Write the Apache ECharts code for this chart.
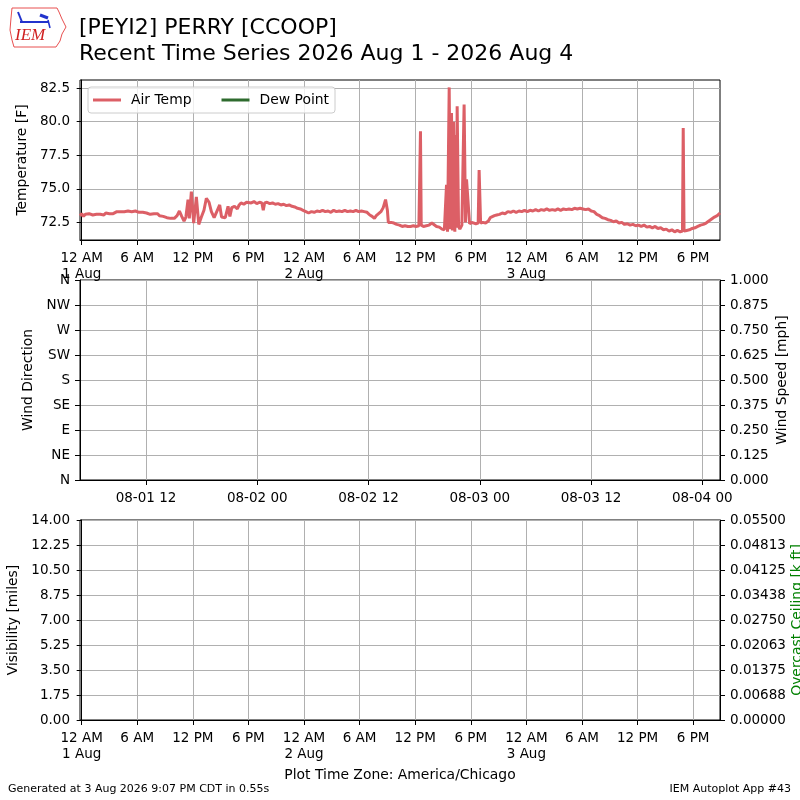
<!DOCTYPE html>
<html><head><meta charset="utf-8">
<script src="https://cdn.jsdelivr.net/npm/echarts@6/dist/echarts.min.js"></script>
<style>html,body{margin:0;padding:0;background:#fff}#c{width:800px;height:800px}</style>
</head><body><div id="c"></div><script>
// ---- Data (hours since 2026-08-01 00:00 CDT) ----
const airTempHours = [
 -0.18,0,0.2,0.4,0.6,0.8,1.0,1.2,1.4,1.6,1.8,2.0,2.2,2.4,2.6,2.8,3.0,3.2,3.4,3.6,3.8,4.0,4.2,4.4,4.6,4.8,5.0,5.2,5.4,5.6,5.8,6.0,6.2,6.4,6.6,6.8,7.0,7.2,7.4,7.6,7.8,8.0,8.2,8.4,8.6,8.8,9.0,9.2,9.4,9.6,9.8,10.0,
 10.3,10.55,10.8,11.05,11.25,11.48,11.62,11.84,12.09,12.38,12.64,12.92,13.2,13.46,13.75,14.0,14.3,14.5,14.9,15.1,15.3,15.5,15.8,16.0,16.2,16.5,16.8,17.0,17.2,17.5,17.8,18.0,18.3,18.6,18.9,19.2,19.45,19.6,19.75,20.0,20.3,20.6,20.9,21.2,21.5,21.8,22.1,22.4,22.7,23.0,23.3,23.6,23.9,24.2,24.5,
 24.8,25.1,25.4,25.7,26.0,26.3,26.6,26.9,27.2,27.5,27.8,28.1,28.4,28.7,29.0,29.3,29.6,29.9,30.2,30.5,30.8,31.1,31.35,31.6,31.8,32.0,32.3,32.55,32.8,33.0,33.1,
 33.4,33.7,34.0,34.3,34.6,34.9,35.2,35.5,35.8,36.1,36.4,36.52,36.57,36.65,36.9,37.2,37.5,37.8,38.0,38.3,38.6,38.9,39.15,39.3,
 39.38,39.49,39.67,39.8,39.92,40.03,40.14,40.28,40.38,40.46,40.53,40.68,40.82,41.04,41.2,41.28,41.43,41.54,41.72,41.87,42.1,42.3,42.55,42.8,42.9,43.06,43.3,43.6,43.9,44.1,44.3,44.55,44.8,
 45.1,45.4,45.7,46.0,46.3,46.6,46.9,47.2,47.5,47.8,48.1,48.4,48.7,49.0,49.3,49.6,49.9,50.2,50.5,50.8,51.1,51.4,51.7,52.0,52.3,52.6,52.9,53.2,53.5,53.8,54.1,54.4,54.7,55.0,55.3,55.6,55.9,
 56.2,56.5,56.8,57.1,57.4,57.7,58.0,58.3,58.6,58.9,59.2,59.5,59.8,60.1,60.4,60.7,61.0,61.3,61.6,61.9,62.2,62.5,62.8,63.1,63.4,63.7,64.0,64.3,64.6,64.85,64.93,65.02,65.3,65.6,65.9,66.2,66.5,66.8,67.1,67.4,67.7,68.0,68.3,68.6,68.9
];
const airTempF = [
 73.0,73.15,72.95,73.1,73.0,73.15,73.1,73.05,73.15,73.1,73.2,73.1,73.15,73.05,73.2,73.1,73.15,73.25,73.15,73.2,73.3,73.2,73.3,73.25,73.3,73.2,73.35,73.25,73.3,73.2,73.35,73.3,73.25,73.35,73.25,73.3,73.2,73.25,73.1,73.2,73.15,73.05,73.15,73.0,73.1,72.95,73.0,72.85,72.95,72.8,72.9,72.8,
 73.0,73.35,72.95,72.6,72.9,74.2,72.8,74.8,72.45,74.4,72.35,72.9,73.4,74.3,74.0,73.3,72.85,72.9,73.8,72.9,72.95,72.85,73.7,72.95,73.6,73.7,73.5,73.8,73.95,73.85,74.0,74.05,73.95,74.05,73.9,74.0,73.95,73.4,73.95,74.0,73.9,73.95,73.85,73.9,73.8,73.85,73.75,73.8,73.7,73.65,73.55,73.5,73.4,73.3,73.2,
 73.3,73.25,73.35,73.3,73.4,73.3,73.35,73.25,73.4,73.3,73.35,73.3,73.4,73.3,73.35,73.3,73.4,73.3,73.35,73.3,73.25,73.05,72.95,72.8,73.0,73.05,73.3,73.6,74.2,73.4,72.5,
 72.5,72.45,72.35,72.3,72.2,72.25,72.2,72.2,72.25,72.2,72.25,72.3,79.28,72.3,72.2,72.25,72.3,72.45,72.35,72.2,72.15,72.0,71.95,71.85,
 75.3,71.8,82.55,72.0,80.65,71.9,80.0,71.8,79.0,72.1,81.15,72.2,72.0,72.3,72.2,81.27,72.5,75.7,75.7,72.4,72.5,72.45,72.4,72.45,76.4,72.45,72.5,72.45,72.6,72.85,72.8,73.0,73.05,
 73.1,73.2,73.15,73.3,73.25,73.35,73.25,73.35,73.3,73.4,73.3,73.4,73.35,73.45,73.35,73.45,73.4,73.5,73.4,73.45,73.4,73.5,73.4,73.5,73.45,73.5,73.45,73.55,73.5,73.55,73.5,73.45,73.5,73.35,73.3,73.1,73.0,
 72.85,72.8,72.7,72.65,72.55,72.6,72.45,72.5,72.35,72.4,72.3,72.35,72.25,72.3,72.2,72.3,72.15,72.2,72.1,72.2,72.05,72.1,71.95,72.0,71.85,71.95,71.8,71.9,71.8,71.85,79.53,71.85,71.9,71.95,72.05,72.1,72.2,72.3,72.35,72.45,72.6,72.75,72.9,73.0,73.2
];
const dewPointF = [];

// ---- Tick labels ----
const timeTickHours = [0,6,12,18,24,30,36,42,48,54,60,66];
const timeTickLabels = ['12 AM\n1 Aug','6 AM','12 PM','6 PM','12 AM\n2 Aug','6 AM','12 PM','6 PM','12 AM\n3 Aug','6 AM','12 PM','6 PM'];
const windTickHours = [12,24,36,48,60,72];
const windTickLabels = ['08-01 12','08-02 00','08-02 12','08-03 00','08-03 12','08-04 00'];
const tempTicks = [72.5,75.0,77.5,80.0,82.5];
const dirLabels = ['N','NE','E','SE','S','SW','W','NW','N'];
const ceilLabels = ['0.00000','0.00688','0.01375','0.02063','0.02750','0.03438','0.04125','0.04813','0.05500'];

const FONT = 'DejaVu Sans';
const chart = echarts.init(document.getElementById('c'), null, {renderer:'canvas'});

function lbl(extra){ return Object.assign({color:'#000', fontSize:13.5, fontFamily:FONT, margin:10}, extra||{}); }
const axLine = {show:true, lineStyle:{color:'#000', width:1}};
const tick = {show:true, length:5, inside:false, lineStyle:{color:'#000', width:1}};
const grid = {show:true, lineStyle:{color:'#b0b0b0', width:1, type:'solid'}};
const nameStyle = {color:'#000', fontSize:13.9, fontFamily:FONT};

function timeAxis(gi, min, max, vals, labels){
  return {
    type:'value', gridIndex:gi, min:min, max:max,
    axisLine:axLine,
    axisTick:Object.assign({}, tick, {customValues:vals}),
    axisLabel:lbl({customValues:vals, lineHeight:16, formatter:function(v){const i=vals.indexOf(Math.round(v)); return i>=0?labels[i]:'';}}),
    splitLine:grid
  };
}

const pairs = airTempHours.map((h,i)=>[h, airTempF[i]]);
const gridBase = {left:80, right:80, show:true, borderColor:'#000', borderWidth:1, backgroundColor:'transparent', containLabel:false, outerBoundsMode:'none'};

chart.setOption({
  animation:false,
  backgroundColor:'#fff',
  title:{
    text:'[PEYI2] PERRY [CCOOP]\nRecent Time Series 2026 Aug 1 - 2026 Aug 4',
    left:79, top:15, padding:0,
    textStyle:{fontSize:22, fontWeight:'normal', color:'#000', lineHeight:26, fontFamily:FONT}
  },
  legend:{
    left:88, top:87, orient:'horizontal',
    data:[{name:'Air Temp', icon:'rect'},{name:'Dew Point', icon:'rect'}],
    itemWidth:28, itemHeight:3, itemGap:30,
    padding:[6,6,6,5],
    borderColor:'#cccccc', borderWidth:1, borderRadius:3,
    backgroundColor:'rgba(255,255,255,0.8)',
    textStyle:{color:'#000', fontSize:13.9, fontFamily:FONT, padding:[0,0,0,5]}
  },
  grid:[
    Object.assign({}, gridBase, {top:80, height:160}),
    Object.assign({}, gridBase, {top:280, height:200}),
    Object.assign({}, gridBase, {top:520, height:200})
  ],
  xAxis:[
    timeAxis(0, -0.18, 68.9, timeTickHours, timeTickLabels),
    timeAxis(1, 4.88, 73.91, windTickHours, windTickLabels),
    timeAxis(2, -0.18, 68.9, timeTickHours, timeTickLabels)
  ],
  yAxis:[
    {type:'value', gridIndex:0, min:71.19, max:83.1, position:'left',
     axisLine:axLine, axisTick:Object.assign({}, tick, {customValues:tempTicks}),
     axisLabel:lbl({customValues:tempTicks, formatter:v=>v.toFixed(1)}), splitLine:grid,
     name:'Temperature [F]', nameLocation:'middle', nameRotate:90, nameGap:51, nameTextStyle:nameStyle},
    {type:'value', gridIndex:1, min:0, max:360, interval:45, position:'left',
     axisLine:axLine, axisTick:tick,
     axisLabel:lbl({formatter:v=>dirLabels[Math.round(v/45)]}), splitLine:grid,
     name:'Wind Direction', nameLocation:'middle', nameRotate:90, nameGap:35, nameTextStyle:nameStyle},
    {type:'value', gridIndex:1, min:0, max:1, interval:0.125, position:'right',
     axisLine:axLine, axisTick:tick,
     axisLabel:lbl({formatter:v=>v.toFixed(3)}), splitLine:{show:false},
     name:'Wind Speed [mph]', nameLocation:'middle', nameRotate:90, nameGap:55, nameMoveOverlap:false, nameTextStyle:nameStyle},
    {type:'value', gridIndex:2, min:0, max:14, interval:1.75, position:'left',
     axisLine:axLine, axisTick:tick,
     axisLabel:lbl({formatter:v=>v.toFixed(2)}), splitLine:grid,
     name:'Visibility [miles]', nameLocation:'middle', nameRotate:90, nameGap:54, nameTextStyle:nameStyle},
    {type:'value', gridIndex:2, min:0, max:0.055, interval:0.006875, position:'right',
     axisLine:axLine, axisTick:tick,
     axisLabel:lbl({formatter:v=>ceilLabels[Math.round(v/0.006875)]}), splitLine:{show:false},
     name:'Overcast Ceiling [k ft]', nameLocation:'middle', nameRotate:90, nameGap:70, nameMoveOverlap:false,
     nameTextStyle:Object.assign({}, nameStyle, {color:'#008000'})}
  ],
  series:[
    {name:'Air Temp', type:'line', xAxisIndex:0, yAxisIndex:0, data:pairs, showSymbol:false,
     lineStyle:{color:'#dc5f66', width:3}, itemStyle:{color:'#dc5f66'}},
    {name:'Dew Point', type:'line', xAxisIndex:0, yAxisIndex:0, data:dewPointF, showSymbol:false,
     lineStyle:{color:'#2e6b2e', width:3}, itemStyle:{color:'#2e6b2e'}}
  ],
  graphic:[
    {type:'polygon', shape:{points:[[12,8],[57,8],[59,12],[62,19],[66,27],[62,34],[60,41],[56,47],[14,47],[12,40],[10,30],[11,18]]},
     style:{fill:'none', stroke:'#e85050', lineWidth:1}},
    {type:'line', shape:{x1:20,y1:22,x2:48,y2:22}, style:{stroke:'#2233cc', lineWidth:2}},
    {type:'line', shape:{x1:18,y1:12,x2:22,y2:22}, style:{stroke:'#2233cc', lineWidth:2}},
    {type:'line', shape:{x1:40,y1:15,x2:48,y2:18}, style:{stroke:'#2233cc', lineWidth:3}},
    {type:'line', shape:{x1:48,y1:20,x2:50,y2:28}, style:{stroke:'#2233cc', lineWidth:1.5}},
    {type:'text', left:15, top:27, style:{text:'IEM', fill:'#d02020', font:'italic 17px "Liberation Serif", serif'}},
    {type:'text', left:8, top:784, style:{text:'Generated at 3 Aug 2026 9:07 PM CDT in 0.55s', fill:'#000', font:'11px "DejaVu Sans"'}},
    {type:'text', right:9, top:784, style:{text:'IEM Autoplot App #43', fill:'#000', font:'11px "DejaVu Sans"'}},
    {type:'text', left:'center', top:768, style:{text:'Plot Time Zone: America/Chicago', fill:'#000', font:'13.9px "DejaVu Sans"'}}
  ]
});
</script></body></html>
